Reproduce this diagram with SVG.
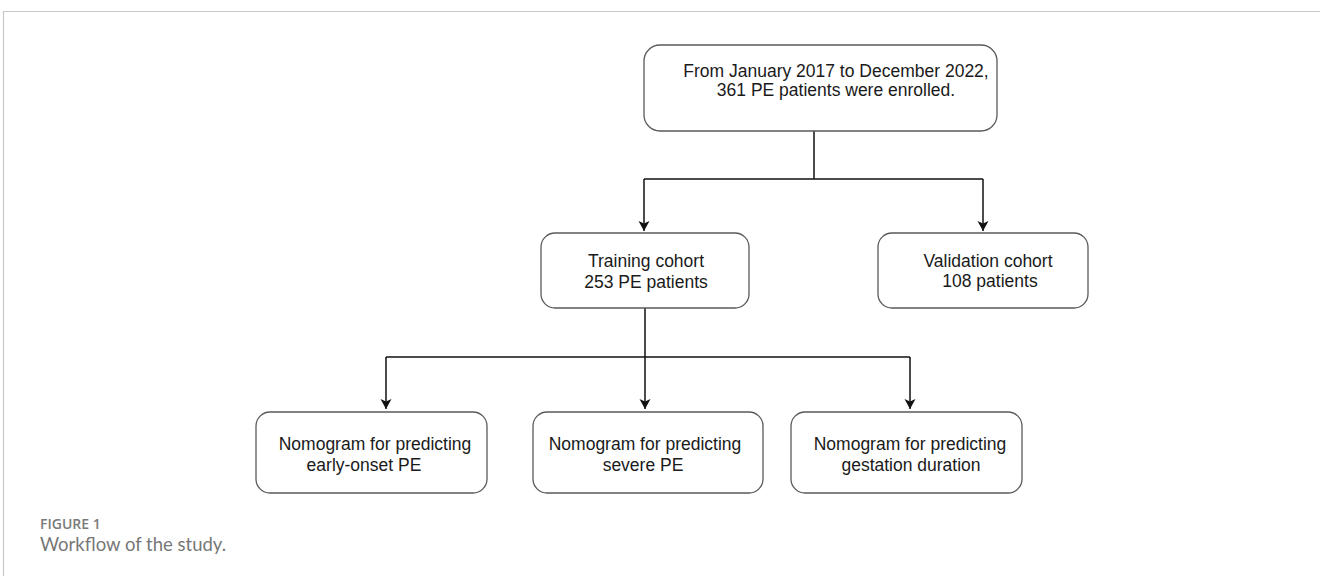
<svg xmlns="http://www.w3.org/2000/svg" width="1320" height="576" viewBox="0 0 1320 576">
<style>
.box{fill:#fff;stroke:#5a5a5a;stroke-width:1.3}
.t{font-family:"Liberation Sans",Arial,sans-serif;font-size:17.5px;fill:#1a1a1a;text-anchor:middle}
.c{fill:none;stroke:#111;stroke-width:1.5}
.cap1{font-family:"Open Sans",sans-serif;font-weight:600;font-size:14px;fill:#7a7a7a}
.cap2{font-family:Lato,"Open Sans",sans-serif;font-size:18.5px;fill:#777}
</style>
<defs>
<marker id="ah" markerUnits="userSpaceOnUse" markerWidth="12" markerHeight="12" viewBox="0 0 12 12" refX="11" refY="6" orient="auto">
<path d="M1,0.5 L11,6 L1,11.5 L3.5,6 Z" fill="#111"/>
</marker>
</defs>
<rect width="1320" height="576" fill="#fff"/>
<path d="M3.5,576 V11.5 H1320" fill="none" stroke="#c8c8c8" stroke-width="1.2"/>
<g id="connectors">
<path class="c" d="M814,131 V179"/>
<path class="c" d="M644,179 H983"/>
<path class="c" d="M644,179 V231" marker-end="url(#ah)"/>
<path class="c" d="M983,179 V231" marker-end="url(#ah)"/>
<path class="c" d="M645,308 V409" marker-end="url(#ah)"/>
<path class="c" d="M386,357 H910"/>
<path class="c" d="M386,357 V409" marker-end="url(#ah)"/>
<path class="c" d="M910,357 V409" marker-end="url(#ah)"/>
</g>
<g id="enrolled">
<rect class="box" x="644" y="45" width="353" height="86" rx="16"/>
<text class="t" x="836" y="77">From January 2017 to December 2022,</text>
<text class="t" x="836" y="96">361 PE patients were enrolled.</text>
</g>
<g id="training">
<rect class="box" x="541" y="233" width="208" height="75" rx="14"/>
<text class="t" x="646" y="267">Training cohort</text>
<text class="t" x="646" y="288">253 PE patients</text>
</g>
<g id="validation">
<rect class="box" x="878" y="233" width="210" height="75" rx="14"/>
<text class="t" x="988" y="267">Validation cohort</text>
<text class="t" x="990" y="287">108 patients</text>
</g>
<g id="early">
<rect class="box" x="256" y="412" width="231" height="81" rx="14"/>
<text class="t" x="375" y="450">Nomogram for predicting</text>
<text class="t" x="364" y="471">early-onset PE</text>
</g>
<g id="severe">
<rect class="box" x="533" y="412" width="230" height="81" rx="14"/>
<text class="t" x="645" y="450">Nomogram for predicting</text>
<text class="t" x="643" y="471">severe PE</text>
</g>
<g id="gestation">
<rect class="box" x="791" y="412" width="231" height="81" rx="14"/>
<text class="t" x="910" y="450">Nomogram for predicting</text>
<text class="t" x="911" y="471">gestation duration</text>
</g>
<text class="cap1" x="40" y="529">FIGURE 1</text>
<text class="cap2" x="40" y="551">Workflow of the study.</text>
</svg>
